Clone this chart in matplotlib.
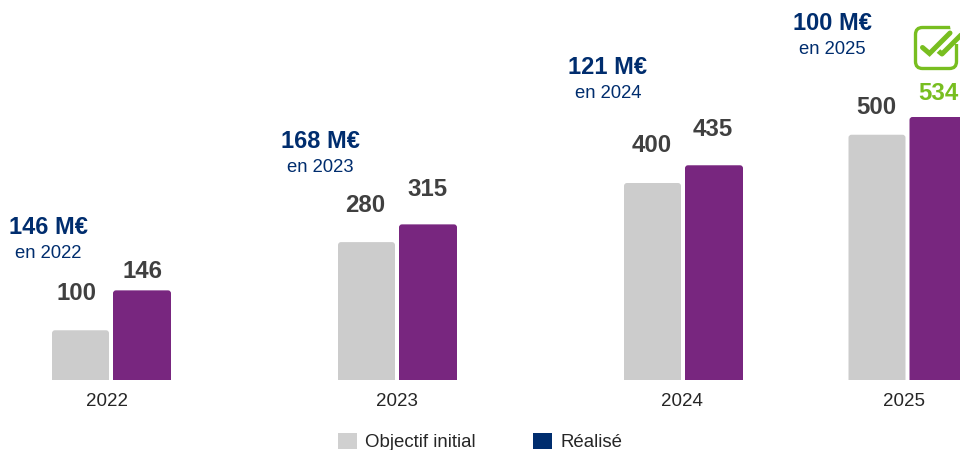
"""Objectif initial vs realise, 2022-2025."""

import matplotlib

matplotlib.use("Agg")
import matplotlib.pyplot as plt  # noqa: E402
from matplotlib.patches import FancyBboxPatch, Patch, PathPatch  # noqa: E402
from matplotlib.path import Path  # noqa: E402
from matplotlib.transforms import Affine2D  # noqa: E402

years = ["2022", "2023", "2024", "2025"]
# bar heights as drawn: the 2022 realise bar is taller than its 146 label
objectif_heights = [101, 280, 400, 498]
realise_heights = [182, 316, 436, 534]
objectif_labels = ["100", "280", "400", "500"]
realise_labels = ["146", "315", "435", "534"]
callout_values = ["146 M€", "168 M€", "121 M€", "100 M€"]
callout_years = ["en 2022", "en 2023", "en 2024", "en 2025"]

plt.rcParams["font.family"] = ["Liberation Sans", "DejaVu Sans"]

GREY = "#CCCCCC"
PURPLE = "#78267F"
NAVY = "#002D6E"
LABEL = "#404040"
GREEN = "#78BE20"

# layout in reference pixels
WIDTH, HEIGHT = 960, 450
BASELINE = 380
PX_PER_UNIT = 0.4925
BAR_W = 58
group_x = [111.5, 397.5, 683.5, 908]
tick_x = [107, 397, 682, 903.5]
objectif_label_x = [76, 365.5, 652, 876.5]
realise_label_x = [142, 427, 713, 938]
objectif_label_y = [293, 205.5, 145.5, 107]
realise_label_y = [271, 189, 129, 93]
callout_x = [48.5, 320, 608, 832]
callout_y = [227, 141.5, 67.5, 23]

fig = plt.figure(figsize=(WIDTH / 100, HEIGHT / 100), dpi=100)
ax = fig.add_axes([0, (HEIGHT - BASELINE) / HEIGHT, 1, BASELINE / HEIGHT])
ax.set_xlim(0, WIDTH)
ax.set_ylim(0, BASELINE / PX_PER_UNIT)
for side in ax.spines.values():
    side.set_visible(False)
ax.yaxis.set_visible(False)
ax.set_xticks(tick_x, years)
ax.tick_params(axis="x", length=0, pad=9.5, labelsize=13.5, labelcolor="#262626")

# figure pixels, y down, for text placed by hand
px = Affine2D().scale(1 / WIDTH, -1 / HEIGHT).translate(0, 1) + fig.transFigure


def top_rounded_bar(left, width, height, color, radius=3):
    ry = radius / PX_PER_UNIT
    right = left + width
    verts = [
        (left, 0),
        (left, height - ry),
        (left, height),
        (left + radius, height),
        (right - radius, height),
        (right, height),
        (right, height - ry),
        (right, 0),
        (left, 0),
    ]
    codes = [
        Path.MOVETO,
        Path.LINETO,
        Path.CURVE3,
        Path.CURVE3,
        Path.LINETO,
        Path.CURVE3,
        Path.CURVE3,
        Path.LINETO,
        Path.CLOSEPOLY,
    ]
    ax.add_patch(PathPatch(Path(verts, codes), facecolor=color, edgecolor="none"))


def label(x, y, s, color, size, weight="bold"):
    fig.text(x, y, s, transform=px, color=color, fontsize=size, fontweight=weight,
             ha="center", va="center")


for i, x in enumerate(group_x):
    top_rounded_bar(x - BAR_W - 1.5, BAR_W - 1, objectif_heights[i], GREY)
    top_rounded_bar(x + 1.5, BAR_W, realise_heights[i], PURPLE)
    label(objectif_label_x[i], objectif_label_y[i], objectif_labels[i], LABEL, 17.3)
    label(realise_label_x[i], realise_label_y[i], realise_labels[i],
          GREEN if i == len(years) - 1 else LABEL, 17.3)
    label(callout_x[i], callout_y[i], callout_values[i], NAVY, 17)
    label(callout_x[i], callout_y[i] + 26, callout_years[i], NAVY, 13.3, weight="normal")

# validated icon above the 2025 bar
box = FancyBboxPatch((915.5, 27.5), 41, 41, boxstyle="round,pad=0,rounding_size=7",
                     facecolor="white", edgecolor=GREEN, linewidth=2.4, transform=px)
fig.add_artist(box)
fig.add_artist(plt.Polygon([(949, 20), (965, 20), (965, 44), (953, 44)], closed=True,
                           facecolor="white", edgecolor="none", transform=px))
fig.add_artist(plt.Line2D([936, 942, 962], [49, 54, 34], color=GREEN, linewidth=3.6,
                          solid_capstyle="round", transform=px))
fig.add_artist(plt.Line2D([930, 951], [54, 33], color="white", linewidth=5.6,
                          solid_capstyle="butt", transform=px))
fig.add_artist(plt.Line2D([922.5, 929.5, 950], [47.5, 53.5, 33], color=GREEN, linewidth=3.6,
                          solid_capstyle="round", solid_joinstyle="miter", transform=px))

handles = [
    Patch(facecolor="#D0D0D0", label="Objectif initial"),
    Patch(facecolor=NAVY, label="Réalisé"),
]
fig.legend(handles=handles, loc="center left", bbox_to_anchor=(338 / WIDTH, 1 - 442 / HEIGHT),
           ncol=2, frameon=False, fontsize=13.4, borderpad=0, borderaxespad=0,
           handlelength=1.0, handleheight=0.95, handletextpad=0.45, columnspacing=3.1,
           labelcolor="#262626")

fig.savefig("out.png", dpi=100)
